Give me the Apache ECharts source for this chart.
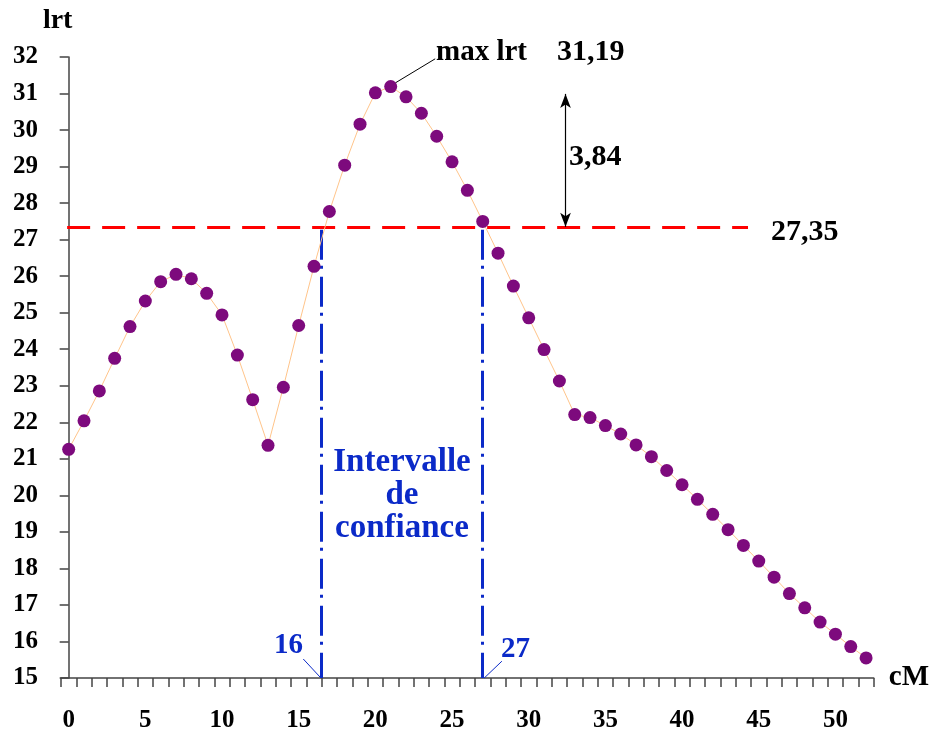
<!DOCTYPE html>
<html>
<head>
<meta charset="utf-8">
<script src="https://cdn.jsdelivr.net/npm/echarts@6/dist/echarts.min.js"></script>
<style>
  html, body {margin: 0; padding: 0; background: #fff}
  #chart {width: 932px; height: 733px}
</style>
</head>
<body>
<div id="chart"></div>
<script>
// positions in cM (0..52) and lrt values
const cM = Array.from({length: 53}, (_, i) => String(i))
const lrt = [21.26, 22.04, 22.86, 23.75, 24.62, 25.32, 25.85, 26.05, 25.93, 25.53,
  24.94, 23.84, 22.62, 21.37, 22.96, 24.65, 26.27, 27.77, 29.04, 30.16,
  31.02, 31.19, 30.91, 30.46, 29.83, 29.13, 28.35, 27.50, 26.63, 25.73,
  24.86, 23.99, 23.13, 22.21, 22.13, 21.91, 21.68, 21.38, 21.06, 20.68,
  20.29, 19.89, 19.48, 19.06, 18.63, 18.20, 17.76, 17.31, 16.92, 16.53,
  16.20, 15.86, 15.55]
const maxLrt = 31.19, threshold = 27.35, diff = 3.84
const ciLow = 16.5, ciHigh = 27   // where the dash-dot lines stand on the axis
const yTicks = {min: 15, max: 32, interval: 1}

const serif = 'Liberation Serif', blue = '#0b2ac8'
const chart = echarts.init(document.getElementById('chart'))

const bold = (size, color) => ({fontFamily: serif, fontWeight: 'bold', fontSize: size, fill: color || '#000'})

chart.setOption({
  animation: false,
  grid: {left: 61, right: 58, top: 57, bottom: 52},
  xAxis: [{
    type: 'category', data: cM, boundaryGap: true,
    name: 'cM', nameLocation: 'end', nameGap: 15,
    nameTextStyle: {fontFamily: serif, fontWeight: 'bold', fontSize: 29, color: '#000', padding: [8, 0, 0, 0]},
    axisLine: {lineStyle: {color: '#444', width: 1.5}},
    axisTick: {show: true, interval: 0, length: 9, lineStyle: {color: '#444', width: 1.5}},
    axisLabel: {interval: 4, margin: 30, fontFamily: serif, fontWeight: 'bold', fontSize: 25, color: '#000'},
    splitLine: {show: false},
  }, {
    type: 'value', min: -0.5, max: 52.5, show: false,
  }],
  yAxis: {
    type: 'value', min: yTicks.min, max: yTicks.max, interval: yTicks.interval,
    name: 'lrt', nameLocation: 'end', nameGap: 22,
    nameTextStyle: {fontFamily: serif, fontWeight: 'bold', fontSize: 28, color: '#000', padding: [0, 22, 0, 0]},
    axisLine: {show: true, lineStyle: {color: '#444', width: 1.5}},
    axisTick: {show: true, length: 9, lineStyle: {color: '#444', width: 1.5}},
    axisLabel: {margin: 23, fontFamily: serif, fontWeight: 'bold', fontSize: 25, color: '#000'},
    splitLine: {show: false},
  },
  series: [{
    type: 'line', data: lrt, xAxisIndex: 0,
    symbol: 'circle', symbolSize: 13, showAllSymbol: true,
    lineStyle: {color: '#ffc48a', width: 1},
    itemStyle: {color: '#7d0a7d'},
    z: 5,
  }, {
    // reference lines and leaders, on the hidden value x axis
    type: 'line', data: [], xAxisIndex: 1, silent: true,
    markLine: {
      silent: true, symbol: ['none', 'none'], animation: false,
      label: {show: false},
      data: [
        [{coord: [-0.1, threshold], lineStyle: {color: '#ff0000', width: 3, type: [23, 12]}},
          {coord: [44.3, threshold]}],
        [{coord: [ciLow, threshold - 0.08], lineStyle: {color: blue, width: 3, type: [30, 6, 3, 8]}},
          {coord: [ciLow, 15]}],
        [{coord: [ciHigh, threshold - 0.08], lineStyle: {color: blue, width: 3, type: [30, 6, 3, 8]}},
          {coord: [ciHigh, 15]}],
        [{coord: [32.4, threshold + diff - 0.2], symbol: 'arrow', symbolSize: [8, 14],
          lineStyle: {color: '#000', width: 1.2, type: 'solid'}, itemStyle: {color: '#000'}},
          {coord: [32.4, threshold], symbol: 'arrow', symbolSize: [8, 14]}],
        [{coord: [21.3, maxLrt + 0.1], lineStyle: {color: '#000', width: 1, type: 'solid'}},
          {coord: [23.9, 31.95]}],
        [{coord: [15.3, 15.52], lineStyle: {color: blue, width: 1, type: 'solid'}},
          {coord: [ciLow - 0.05, 15.0]}],
        [{coord: [ciHigh + 0.1, 15.0], lineStyle: {color: blue, width: 1, type: 'solid'}},
          {coord: [28.25, 15.46]}],
      ],
    },
  }],
  graphic: [
    {type: 'text', left: 436, top: 38, style: {text: 'max lrt', ...bold(29)}},
    {type: 'text', left: 557, top: 37, style: {text: String(maxLrt).replace('.', ','), ...bold(30)}},
    {type: 'text', left: 569, top: 142, style: {text: String(diff).replace('.', ','), ...bold(30)}},
    {type: 'text', left: 771, top: 217, style: {text: String(threshold).replace('.', ','), ...bold(30)}},
    {type: 'text', x: 402, y: 495, style: {text: 'Intervalle\nde\nconfiance', ...bold(33, blue),
      lineHeight: 33, align: 'center', verticalAlign: 'middle'}},
    {type: 'text', left: 274, top: 631, style: {text: '16', ...bold(29, blue)}},
    {type: 'text', left: 501, top: 635, style: {text: '27', ...bold(29, blue)}},
  ],
})
</script>
</body>
</html>
